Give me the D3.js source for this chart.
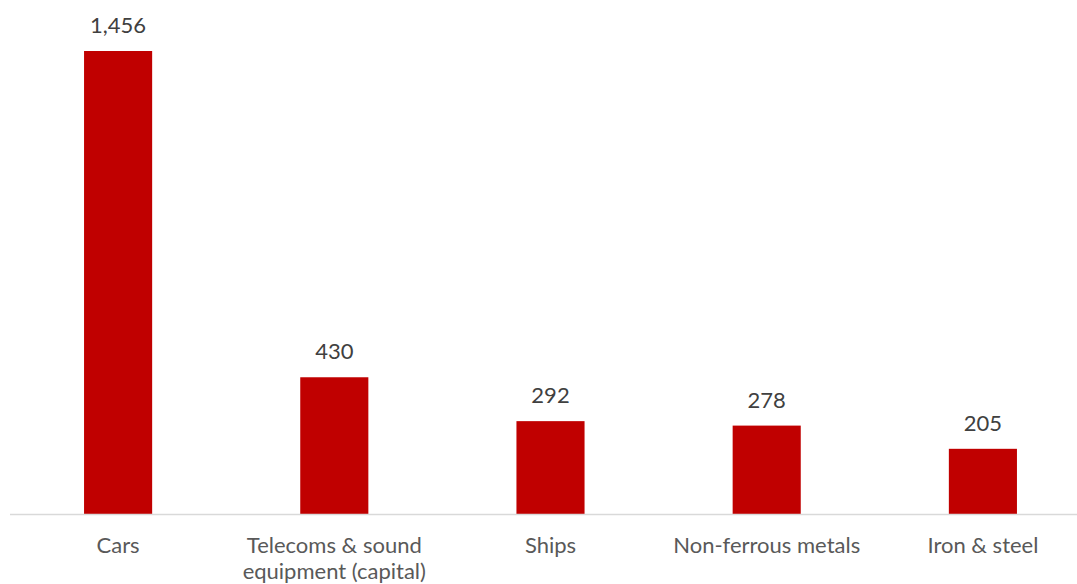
<!DOCTYPE html>
<html>
<head>
<meta charset="utf-8">
<script src="https://cdn.jsdelivr.net/npm/d3@7"></script>
<style>
  body { margin: 0; background: #fff; }
  svg { display: block; }
</style>
</head>
<body>
<svg id="chart"></svg>
<script>
// Data
const categories = ["Cars", "Telecoms & sound equipment (capital)", "Ships", "Non-ferrous metals", "Iron & steel"];
const labelLines = [["Cars"], ["Telecoms & sound", "equipment (capital)"], ["Ships"], ["Non-ferrous metals"], ["Iron & steel"]];
const values = [1456, 430, 292, 278, 205];

const width = 1077, height = 584;
const margin = { top: 51, bottom: 70, left: 10, right: -14 };
const baseline = height - margin.bottom;

const svg = d3.select("#chart")
  .attr("width", width)
  .attr("height", height)
  .style("font-family", "Lato, 'Open Sans', sans-serif");

const x = d3.scaleBand()
  .domain(categories)
  .range([margin.left, width - margin.right])
  .paddingInner(0.685)
  .paddingOuter(0.3425);

const y = d3.scaleLinear()
  .domain([0, 1456])
  .range([baseline, margin.top]);

// Bars
svg.append("g")
  .selectAll("rect")
  .data(values)
  .join("rect")
  .attr("x", (d, i) => x(categories[i]))
  .attr("y", d => y(d))
  .attr("width", x.bandwidth())
  .attr("height", d => baseline - y(d))
  .attr("fill", "#c00000");

// Axis line
svg.append("line")
  .attr("x1", margin.left)
  .attr("x2", width)
  .attr("y1", baseline + 0.5)
  .attr("y2", baseline + 0.5)
  .attr("stroke", "#d9d9d9")
  .attr("stroke-width", 1.5);

// Value labels
svg.append("g")
  .selectAll("text")
  .data(values)
  .join("text")
  .attr("x", (d, i) => x(categories[i]) + x.bandwidth() / 2)
  .attr("y", d => y(d) - 18)
  .attr("text-anchor", "middle")
  .attr("fill", "#404040")
  .style("font-size", "22px")
  .text(d => d3.format(",")(d));

// Category labels
const cat = svg.append("g")
  .selectAll("text")
  .data(categories)
  .join("text")
  .attr("x", d => x(d) + x.bandwidth() / 2)
  .attr("y", baseline + 39)
  .attr("text-anchor", "middle")
  .attr("fill", "#595959")
  .style("font-size", "22px");

cat.selectAll("tspan")
  .data((d, i) => labelLines[i])
  .join("tspan")
  .attr("x", function () { return d3.select(this.parentNode).attr("x"); })
  .attr("dy", (d, i) => i === 0 ? 0 : 26)
  .text(d => d);
</script>
</body>
</html>
